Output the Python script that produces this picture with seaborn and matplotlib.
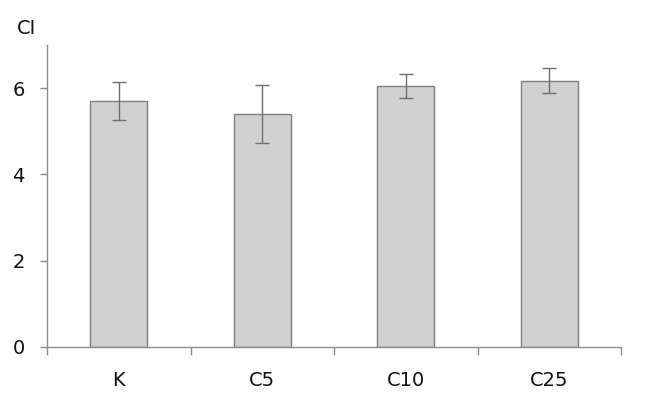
import matplotlib
matplotlib.use("Agg")
import matplotlib.pyplot as plt
import seaborn as sns
import pandas as pd
import numpy as np
from matplotlib.ticker import FixedLocator

categories = ["K", "C5", "C10", "C25"]
means = [5.70, 5.40, 6.05, 6.17]
errors = [0.44, 0.67, 0.27, 0.29]

sns.set_theme(style="white")
plt.rcParams['font.family'] = ['DejaVu Sans']

df = pd.DataFrame({"group": categories, "CI": means})

fig = plt.figure(figsize=(6.58, 3.93), dpi=100)
ax = fig.add_axes([47/658, 1-347/393, (621-47)/658, (347-45)/393])

sns.barplot(data=df, x="group", y="CI", order=categories, color="#D0D0D0",
            edgecolor="#7F7F7F", linewidth=1.0, width=0.4, errorbar=None,
            saturation=1, ax=ax)
ax.errorbar(np.arange(len(categories)), means, yerr=errors, fmt="none",
            ecolor="#6E6E6E", elinewidth=1.0, capsize=5, capthick=1.0)

ax.set_xlim(-0.5, len(categories) - 0.5)
ax.set_ylim(0, 7)
ax.set_yticks([0, 2, 4, 6])
ax.set_xlabel("")
ax.set_ylabel("")
for s in ["top", "right"]:
    ax.spines[s].set_visible(False)
for s in ["left", "bottom"]:
    ax.spines[s].set_color("#8C8C8C")
    ax.spines[s].set_linewidth(1.0)

ax.tick_params(axis="x", which="major", length=0, pad=17, labelsize=14, colors="#111111")
ax.xaxis.set_minor_locator(FixedLocator(np.arange(-0.5, len(categories), 1.0)))
ax.tick_params(axis="x", which="minor", length=6, width=1, color="#8C8C8C", direction="out", bottom=True)
ax.tick_params(axis="y", length=5, width=1, color="#8C8C8C", direction="out", left=True,
               labelsize=14, pad=11, labelcolor="#111111")

fig.text(27/658, 1-28/393, "CI", ha="center", va="center", fontsize=14, color="#111111")

fig.savefig("out.png", dpi=100)
